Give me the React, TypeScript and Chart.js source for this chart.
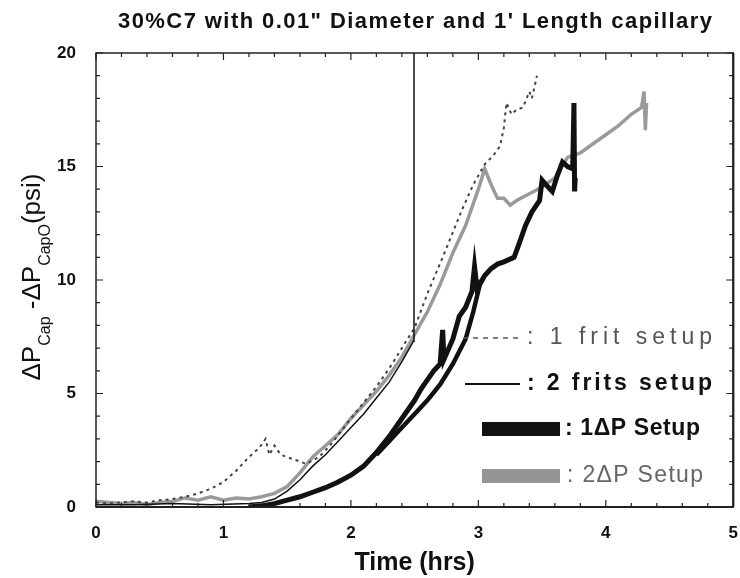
import React, { useEffect, useRef } from "react";
import { Chart, registerables } from "chart.js";
Chart.register(...registerables);

// ---- Data (time in hrs, value in psi) ----
const frit1Time = [0, 0.1, 0.2, 0.3, 0.4, 0.5, 0.6, 0.7, 0.8, 0.9, 1.0, 1.1, 1.2, 1.28, 1.33, 1.36, 1.4, 1.45, 1.55, 1.65, 1.75, 1.85, 2.0, 2.1, 2.2, 2.3, 2.4, 2.5, 2.6, 2.72, 2.8, 2.88, 2.96, 3.05, 3.12, 3.17, 3.2, 3.22, 3.26, 3.3, 3.35, 3.4, 3.42, 3.46];
const frit1Value = [0.2, 0.15, 0.2, 0.25, 0.2, 0.3, 0.35, 0.45, 0.6, 0.8, 1.1, 1.6, 2.2, 2.6, 3.0, 2.3, 2.7, 2.3, 2.1, 1.9, 2.2, 2.8, 3.9, 4.6, 5.3, 6.1, 7.0, 7.9, 9.4, 11.0, 12.1, 13.2, 14.2, 15.1, 15.5, 15.9, 16.7, 17.8, 17.3, 17.5, 17.6, 18.3, 18.0, 19.0];

const frit2Time = [0, 0.3, 0.6, 0.9, 1.2, 1.3, 1.4, 1.5, 1.6, 1.7, 1.8, 1.9, 2.0, 2.1, 2.2, 2.3, 2.4, 2.49, 2.495];
const frit2Value = [0.1, 0.1, 0.15, 0.1, 0.15, 0.2, 0.35, 0.7, 1.2, 1.8, 2.3, 2.9, 3.5, 4.1, 4.8, 5.5, 6.4, 7.3, 20];

const dp1Time = [1.2, 1.3, 1.4, 1.5, 1.6, 1.7, 1.8, 1.9, 2.0, 2.1, 2.2, 2.3, 2.4, 2.5, 2.55, 2.6, 2.65, 2.7, 2.72, 2.73, 2.8, 2.85, 2.9, 2.95, 2.97, 2.99, 3.05, 3.1, 3.15, 3.2, 3.28, 3.32, 3.37, 3.42, 3.48, 3.5, 3.53, 3.58, 3.62, 3.66, 3.7, 3.74, 3.75, 3.755, 3.76];
const dp1Value = [0.0, 0.05, 0.15, 0.3, 0.45, 0.65, 0.85, 1.1, 1.4, 1.8, 2.4, 3.1, 3.9, 4.7, 5.2, 5.6, 6.0, 6.3, 7.8, 6.5, 7.4, 8.4, 8.8, 9.5, 10.6, 9.6, 10.2, 10.5, 10.7, 10.8, 11.0, 11.6, 12.4, 13.0, 13.5, 14.4, 14.2, 13.9, 14.6, 15.2, 15.0, 14.9, 17.8, 13.9, 14.5];

const dp1LowerTime = [2.2, 2.3, 2.4, 2.5, 2.6, 2.7, 2.8, 2.9, 2.96, 3.02];
const dp1LowerValue = [2.3, 2.9, 3.5, 4.1, 4.7, 5.4, 6.3, 7.4, 8.6, 10.0];

const dp2Time = [0, 0.1, 0.2, 0.3, 0.4, 0.5, 0.6, 0.7, 0.8, 0.9, 1.0, 1.1, 1.2, 1.3, 1.4, 1.5, 1.6, 1.7, 1.8, 1.9, 2.0, 2.1, 2.2, 2.3, 2.4, 2.5, 2.6, 2.7, 2.8, 2.9, 3.0, 3.05, 3.1, 3.15, 3.2, 3.25, 3.3, 3.4, 3.5, 3.6, 3.7, 3.8, 3.9, 4.0, 4.1, 4.2, 4.28, 4.3, 4.31, 4.32];
const dp2Value = [0.25, 0.2, 0.15, 0.2, 0.1, 0.2, 0.25, 0.4, 0.3, 0.45, 0.3, 0.4, 0.35, 0.45, 0.6, 0.9, 1.5, 2.2, 2.7, 3.2, 3.9, 4.5, 5.1, 5.8, 6.6, 7.6, 8.6, 9.8, 11.2, 12.4, 14.0, 14.9, 14.2, 13.6, 13.6, 13.3, 13.5, 13.8, 14.1, 14.5, 15.4, 15.6, 16.0, 16.4, 16.8, 17.3, 17.6, 18.3, 16.6, 17.8];

const xTicks = [0, 1, 2, 3, 4, 5];
const yTicks = [0, 5, 10, 15, 20];

const chartTitle = "30%C7 with 0.01\" Diameter and 1' Length capillary";
const xTitle = "Time (hrs)";
const legendLabels = [": 1 frit setup", ": 2 frits setup", ": 1\u0394P Setup", ": 2\u0394P Setup"];

const FONT = "'Liberation Sans', Arial, sans-serif";

const zip = (t: number[], v: number[]) => t.map((x, i) => ({ x, y: v[i] }));

// draw text stretched to a target width via letter spacing
function spacedText(ctx: any, text: string, x: number, y: number, target: number, align: string) {
  ctx.letterSpacing = "0px";
  const w0 = ctx.measureText(text).width;
  const n = Array.from(text).length;
  const sp = Math.max(0, (target - w0) / Math.max(1, n - 1));
  ctx.letterSpacing = `${sp}px`;
  const total = w0 + sp * (n - 1);
  ctx.textAlign = "left";
  const sx = align === "center" ? x - total / 2 : x;
  ctx.fillText(text, sx, y);
  ctx.letterSpacing = "0px";
}

const decorPlugin = {
  id: "decor",
  afterDraw(chart: any) {
    const { ctx, chartArea: a, scales } = chart;
    const xs = scales.x;
    const ys = scales.y;
    ctx.save();
    // frame
    ctx.strokeStyle = "#222";
    ctx.lineWidth = 1.5;
    ctx.strokeRect(a.left, a.top, a.right - a.left, a.bottom - a.top);
    ctx.lineWidth = 2.2;
    ctx.beginPath();
    ctx.moveTo(a.right, a.top);
    ctx.lineTo(a.right, a.bottom);
    ctx.moveTo(a.left, a.bottom);
    ctx.lineTo(a.right, a.bottom);
    ctx.stroke();
    // inward ticks
    ctx.lineWidth = 1.2;
    ctx.beginPath();
    for (let i = 0; i <= 25; i++) {
      const px = xs.getPixelForValue(i * 0.2);
      const len = i % 5 === 0 ? 7 : 4;
      ctx.moveTo(px, a.bottom);
      ctx.lineTo(px, a.bottom - len);
      ctx.moveTo(px, a.top);
      ctx.lineTo(px, a.top + len);
    }
    for (let i = 0; i <= 20; i++) {
      const py = ys.getPixelForValue(i);
      const len = i % 5 === 0 ? 7 : 4;
      ctx.moveTo(a.left, py);
      ctx.lineTo(a.left + len, py);
      ctx.moveTo(a.right, py);
      ctx.lineTo(a.right - len, py);
    }
    ctx.stroke();

    // title
    ctx.fillStyle = "#111";
    ctx.textBaseline = "middle";
    ctx.font = `bold 22px ${FONT}`;
    spacedText(ctx, chartTitle, 415, 22, 594, "center");

    // x title
    ctx.font = `bold 25px ${FONT}`;
    ctx.textAlign = "center";
    ctx.fillText(xTitle, (a.left + a.right) / 2, 563);

    // y title with subscripts (rotated)
    const big = `26px ${FONT}`;
    const small = `16px ${FONT}`;
    const parts: [string, boolean][] = [["\u0394P", false], ["Cap", true], [" -\u0394P", false], ["CapO", true], ["(psi)", false]];
    let total = 0;
    const widths = parts.map(([s, sub]) => {
      ctx.font = sub ? small : big;
      const w = ctx.measureText(s).width;
      total += w;
      return w;
    });
    ctx.save();
    ctx.translate(40, 277);
    ctx.rotate(-Math.PI / 2);
    ctx.textAlign = "left";
    ctx.textBaseline = "alphabetic";
    let cx = -total / 2;
    parts.forEach(([s, sub], i) => {
      ctx.font = sub ? small : big;
      ctx.fillText(s, cx, sub ? 10 : 0);
      cx += widths[i];
    });
    ctx.restore();

    // legend
    const rows = [338, 384, 429, 476];
    ctx.textBaseline = "middle";
    // 1 frit: dashed
    ctx.strokeStyle = "#555";
    ctx.lineWidth = 1.5;
    ctx.setLineDash([5, 5]);
    ctx.beginPath();
    ctx.moveTo(463, rows[0]);
    ctx.lineTo(520, rows[0]);
    ctx.stroke();
    ctx.setLineDash([]);
    ctx.fillStyle = "#555";
    ctx.font = `23px ${FONT}`;
    spacedText(ctx, legendLabels[0], 527, rows[0], 185, "left");
    // 2 frits: thin solid
    ctx.strokeStyle = "#111";
    ctx.lineWidth = 2;
    ctx.beginPath();
    ctx.moveTo(465, rows[1]);
    ctx.lineTo(520, rows[1]);
    ctx.stroke();
    ctx.fillStyle = "#111";
    ctx.font = `bold 23px ${FONT}`;
    spacedText(ctx, legendLabels[1], 527, rows[1], 185, "left");
    // 1ΔP: black bar
    ctx.fillStyle = "#111";
    ctx.fillRect(482, rows[2] - 7, 78, 14);
    ctx.font = `bold 23px ${FONT}`;
    spacedText(ctx, legendLabels[2], 565, rows[2], 135, "left");
    // 2ΔP: gray bar
    ctx.fillStyle = "#959595";
    ctx.fillRect(482, rows[3] - 7, 78, 14);
    ctx.fillStyle = "#666";
    ctx.font = `23px ${FONT}`;
    spacedText(ctx, legendLabels[3], 567, rows[3], 136, "left");
    ctx.restore();
  },
};

export default function App() {
  const ref = useRef<HTMLCanvasElement>(null);
  useEffect(() => {
    if (!ref.current) return;
    const chart = new Chart(ref.current, {
      type: "line",
      data: {
        datasets: [
          { label: "1\u0394P Setup", data: zip(dp1Time, dp1Value), borderColor: "#111", borderWidth: 5, order: 1 },
          { label: "1\u0394P lower", data: zip(dp1LowerTime, dp1LowerValue), borderColor: "#111", borderWidth: 4.5, order: 2 },
          { label: "2 frits setup", data: zip(frit2Time, frit2Value), borderColor: "#111", borderWidth: 1.5, order: 3 },
          { label: "1 frit setup", data: zip(frit1Time, frit1Value), borderColor: "#444", borderWidth: 2, borderDash: [3, 4], order: 4 },
          { label: "2\u0394P Setup", data: zip(dp2Time, dp2Value), borderColor: "#9a9a9a", borderWidth: 3.5, order: 5 },
        ],
      },
      options: {
        animation: false,
        responsive: false,
        elements: { point: { radius: 0 }, line: { tension: 0 } },
        layout: { padding: { top: 53, right: 6, left: 0, bottom: 0 } },
        plugins: { legend: { display: false }, tooltip: { enabled: false }, title: { display: false } },
        scales: {
          x: {
            type: "linear",
            min: 0,
            max: 5,
            afterFit: (s: any) => { s.height = 71; },
            afterBuildTicks: (s: any) => { s.ticks = xTicks.map((v) => ({ value: v })); },
            grid: { display: false, drawTicks: true, tickLength: 14 },
            border: { display: false },
            ticks: { color: "#111", font: { family: FONT, size: 17, weight: "bold" }, padding: 2, maxRotation: 0 },
          },
          y: {
            type: "linear",
            min: 0,
            max: 20,
            afterFit: (s: any) => { s.width = 96; },
            afterBuildTicks: (s: any) => { s.ticks = yTicks.map((v) => ({ value: v })); },
            grid: { display: false, drawTicks: true, tickLength: 18 },
            border: { display: false },
            ticks: { color: "#111", font: { family: FONT, size: 17, weight: "bold" }, padding: 2 },
          },
        },
      },
      plugins: [decorPlugin],
    } as any);
    return () => chart.destroy();
  }, []);
  return (
    <div style={{ position: "absolute", left: 0, top: 0, width: 740, height: 578, background: "#fff" }}>
      <canvas ref={ref} width={740} height={578} />
    </div>
  );
}
